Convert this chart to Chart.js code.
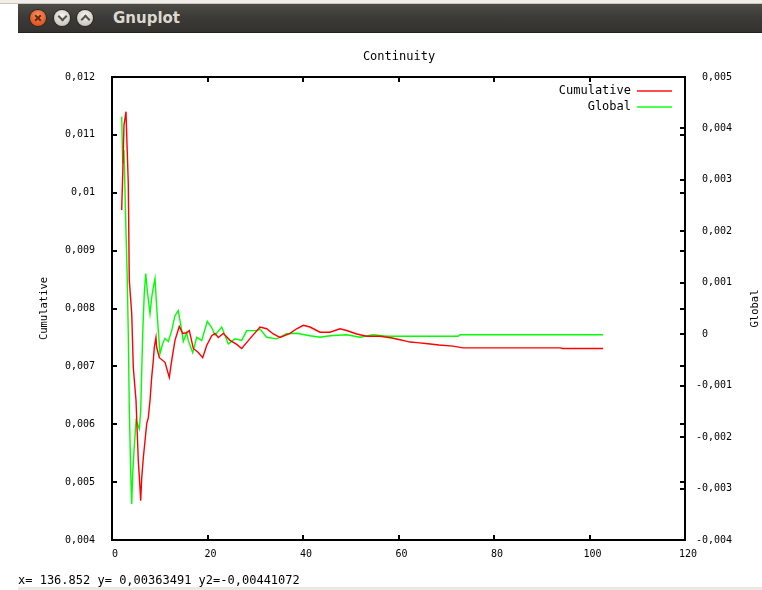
<!DOCTYPE html>
<html>
<head>
<meta charset="utf-8">
<script src="https://cdn.jsdelivr.net/npm/chart.js@4.4.1/dist/chart.umd.min.js"></script>
<style>
html,body{margin:0;padding:0;background:#fff;width:762px;height:590px;overflow:hidden;}
body{position:relative;}
#c{position:absolute;left:0;top:0;}
#topstrip{position:absolute;left:0;top:0;width:762px;height:3px;background:#f1eeea;border-bottom:1px solid #cbc5bd;z-index:2;}
#titlebar{position:absolute;left:18px;top:4px;width:744px;height:28px;background:linear-gradient(#4d4c47,#3c3b37 45%,#33322e);border-bottom:1px solid #25241f;z-index:2;}
.btn{position:absolute;top:6px;width:16px;height:16px;border-radius:50%;box-shadow:0 0 0 1px #2a2926;}
#bclose{left:12px;background:radial-gradient(circle at 50% 35%,#f7946a,#e55a25 65%,#c84512);}
#bmin{left:36px;background:radial-gradient(circle at 50% 35%,#f6f4f0,#cdc9c2 70%,#a9a59d);}
#bmax{left:59px;background:radial-gradient(circle at 50% 35%,#f6f4f0,#cdc9c2 70%,#a9a59d);}
.xbar{position:absolute;left:4px;top:7px;width:8px;height:2px;background:#6b2a10;}
.chev{position:absolute;left:5px;width:5px;height:5px;border-color:#55534e;border-style:solid;border-width:0;}
#bmin .chev{top:3px;border-right-width:2px;border-bottom-width:2px;transform:rotate(45deg);}
#bmax .chev{top:6px;border-left-width:2px;border-top-width:2px;transform:rotate(45deg);}
#wtitle{position:absolute;left:95px;top:0;height:28px;line-height:28px;font-family:"DejaVu Sans";font-weight:bold;font-size:15px;color:#dcd8cf;}
#status{position:absolute;left:18px;top:572px;font-family:"DejaVu Sans Mono";font-size:12px;line-height:16px;color:#000;white-space:pre;z-index:2;}
#botstrip{position:absolute;left:18px;top:587px;width:744px;height:3px;background:#ebe9e6;z-index:2;}
</style>
</head>
<body>
<div id="topstrip"></div>
<div id="titlebar">
  <div class="btn" id="bclose"><div class="xbar" style="transform:rotate(45deg)"></div><div class="xbar" style="transform:rotate(-45deg)"></div></div>
  <div class="btn" id="bmin"><div class="chev"></div></div>
  <div class="btn" id="bmax"><div class="chev"></div></div>
  <div id="wtitle">Gnuplot</div>
</div>
<canvas id="c" width="762" height="590"></canvas>
<div id="status">x= 136.852 y= 0,00363491 y2=-0,00441072</div>
<div id="botstrip"></div>
<script>
// ---- data ----
const seriesLabels = ['Cumulative', 'Global'];
const chartTitle = 'Continuity';

const redX = [2.03,2.24,2.51,2.93,3.08,3.41,3.62,4.13,4.46,5.03,5.51,5.86,6.01,6.22,6.56,6.91,7.27,7.60,7.96,8.31,8.65,8.86,9.21,9.36,9.91,11.10,12.00,12.50,13.19,14.09,14.81,15.64,16.19,17.03,18.07,18.99,19.83,20.88,21.57,22.26,23.31,24.71,26.12,27.16,28.90,31.00,32.40,33.78,35.18,37.28,38.68,40.06,41.47,43.56,45.65,47.75,49.15,51.25,53.34,56.13,58.64,60.31,61.36,62.41,63.87,66.18,68.48,71.41,73.51,93.82,94.45,102.83];
const redY = [0.00970,0.01030,0.01117,0.01140,0.01100,0.01016,0.00849,0.00791,0.00698,0.00641,0.00537,0.00490,0.00468,0.00507,0.00542,0.00571,0.00601,0.00611,0.00641,0.00681,0.00710,0.00733,0.00750,0.00733,0.00715,0.00707,0.00681,0.00710,0.00745,0.00769,0.00757,0.00758,0.00762,0.00731,0.00724,0.00715,0.00736,0.00753,0.00757,0.00750,0.00757,0.00745,0.00738,0.00731,0.00748,0.00768,0.00765,0.00756,0.00750,0.00757,0.00765,0.00771,0.00768,0.00759,0.00759,0.00765,0.00762,0.00756,0.00752,0.00752,0.00749,0.00746,0.00744,0.00742,0.00741,0.00739,0.00737,0.00735,0.00732,0.00732,0.00731,0.00731];

const greenX = [2.03,2.24,2.51,2.93,3.20,3.41,3.62,3.92,4.13,4.34,4.61,5.03,5.30,5.72,6.01,6.43,6.76,7.06,7.39,7.96,8.31,8.65,9.01,9.36,9.70,10.05,10.62,11.10,11.79,12.50,13.19,13.88,14.60,14.93,15.64,15.98,16.90,17.74,18.79,19.96,20.88,21.57,22.97,24.36,25.76,27.16,28.21,30.30,31.00,32.40,34.49,36.59,38.68,41.47,43.56,45.65,49.15,51.94,54.66,57.59,72.46,72.88,102.83];
const greenY = [0.00423,0.00332,0.00358,0.00199,0.00105,0.00001,-0.00143,-0.00270,-0.00330,-0.00270,-0.00227,-0.00168,-0.00174,-0.00184,-0.00149,0.00001,0.00079,0.00118,0.00085,0.00040,0.00071,0.00091,0.00108,0.00052,0.00007,-0.00038,-0.00018,-0.00008,-0.00014,0.00007,0.00036,0.00046,0.00007,-0.00014,0.00003,-0.00012,-0.00036,-0.00006,-0.00012,0.00025,0.00013,-0.00002,0.00014,-0.00019,-0.00009,-0.00012,0.00007,0.00007,0.00010,-0.00006,-0.00009,0.00001,0.00002,-0.00003,-0.00006,-0.00003,-0.00001,-0.00006,-0.00001,-0.00004,-0.00004,-0.00001,-0.00001];

const xTickValues = [0,20,40,60,80,100,120];
const yTickValues = [0.004,0.005,0.006,0.007,0.008,0.009,0.01,0.011,0.012];
const y2TickValues = [-0.004,-0.003,-0.002,-0.001,0,0.001,0.002,0.003,0.004,0.005];

// ---- helpers ----
function fmt(v) {
  const s = String(parseFloat(Number(v).toFixed(6))).replace('.', ',');
  return v < 0 ? s : ' ' + s;
}
const tickFont = { family: 'DejaVu Sans Mono', size: 10, weight: 'normal', lineHeight: 1.2 };
const lblFont = { family: 'DejaVu Sans Mono', size: 10.5, weight: 'normal', lineHeight: 1.2 };
const seriesColors = ['rgb(255,0,0)', 'rgb(0,255,0)'];

const framePlugin = {
  id: 'gnuframe',
  afterDraw(chart) {
    const { ctx, chartArea: a, scales } = chart;
    const L = 5;
    ctx.save();
    ctx.strokeStyle = '#000';
    ctx.lineWidth = 2;
    ctx.beginPath();
    scales.x.ticks.forEach(t => {
      const p = Math.round(scales.x.getPixelForValue(t.value));
      ctx.moveTo(p, a.bottom); ctx.lineTo(p, a.bottom - L);
      ctx.moveTo(p, a.top); ctx.lineTo(p, a.top + L);
    });
    scales.y.ticks.forEach(t => {
      const p = Math.round(scales.y.getPixelForValue(t.value));
      ctx.moveTo(a.left, p); ctx.lineTo(a.left + L, p);
      ctx.moveTo(a.right, p); ctx.lineTo(a.right - L, p);
    });
    scales.y2.ticks.forEach(t => {
      const p = Math.round(scales.y2.getPixelForValue(t.value));
      ctx.moveTo(a.right, p); ctx.lineTo(a.right - L, p);
    });
    ctx.stroke();
    ctx.strokeRect(a.left, a.top, a.right - a.left, a.bottom - a.top);
    ctx.restore();

    // legend (gnuplot style: text then line sample, top right inside the frame)
    chart.data.datasets.forEach((ds, i) => {
      const y = Math.round(a.top + 14 + i * 16.3);
      ctx.save();
      ctx.font = '12px "DejaVu Sans Mono"';
      ctx.textAlign = 'right';
      ctx.textBaseline = 'middle';
      ctx.fillStyle = '#000000';
      ctx.fillText(ds.label, a.right - 54, y);
      ctx.restore();
      ctx.save();
      ctx.fillStyle = seriesColors[i];
      ctx.fillRect(a.right - 48, y - 0.7, 35, 1.4);
      ctx.restore();
    });

    // right axis title, rotated like the left one
    ctx.save();
    ctx.translate(755, (a.top + a.bottom) / 2);
    ctx.rotate(-Math.PI / 2);
    ctx.textAlign = 'center';
    ctx.textBaseline = 'middle';
    ctx.fillStyle = '#000';
    ctx.font = '10.5px "DejaVu Sans Mono"';
    ctx.fillText(seriesLabels[1], 0, 0);
    ctx.restore();
  }
};

new Chart(document.getElementById('c'), {
  type: 'line',
  data: {
    datasets: [
      { label: seriesLabels[0], data: redX.map((x, i) => ({ x, y: redY[i] })), yAxisID: 'y',
        borderColor: seriesColors[0], borderWidth: 1.4, pointRadius: 0, tension: 0, fill: false },
      { label: seriesLabels[1], data: greenX.map((x, i) => ({ x, y: greenY[i] })), yAxisID: 'y2',
        borderColor: seriesColors[1], borderWidth: 1.4, pointRadius: 0, tension: 0, fill: false }
    ]
  },
  options: {
    responsive: false,
    animation: false,
    devicePixelRatio: 1,
    layout: { padding: { left: 36, right: 0, top: 50, bottom: 0 } },
    plugins: {
      legend: { display: false },
      tooltip: { enabled: false },
      title: { display: true, text: chartTitle, color: '#000',
        font: { family: 'DejaVu Sans Mono', size: 12, weight: 'normal', lineHeight: 1.2 },
        padding: { top: 0, bottom: 12.6 } }
    },
    scales: {
      x: {
        type: 'linear', position: 'bottom', min: 0, max: 120,
        afterBuildTicks: s => { s.ticks = xTickValues.map(v => ({ value: v })); },
        afterFit: s => { s.height = 50; },
        grid: { display: false, drawTicks: false },
        border: { display: false },
        ticks: { padding: 8, color: '#000', font: tickFont, callback: fmt, maxRotation: 0, autoSkip: false }
      },
      y: {
        type: 'linear', position: 'left', min: 0.004, max: 0.012,
        afterBuildTicks: s => { s.ticks = yTickValues.map(v => ({ value: v })); },
        afterFit: s => { s.width = 76; },
        grid: { display: false, drawTicks: false },
        border: { display: false },
        ticks: { padding: 17, color: '#000', font: tickFont, callback: fmt, autoSkip: false },
        title: { display: true, text: seriesLabels[0], color: '#000', font: lblFont, padding: { top: 2, bottom: 0 } }
      },
      y2: {
        type: 'linear', position: 'right', min: -0.004, max: 0.005,
        afterBuildTicks: s => { s.ticks = y2TickValues.map(v => ({ value: v })); },
        afterFit: s => { s.width = 77; },
        grid: { display: false, drawTicks: false },
        border: { display: false },
        ticks: { padding: 11, color: '#000', font: tickFont, callback: fmt, autoSkip: false }
      }
    }
  },
  plugins: [framePlugin]
});
</script>
</body>
</html>
